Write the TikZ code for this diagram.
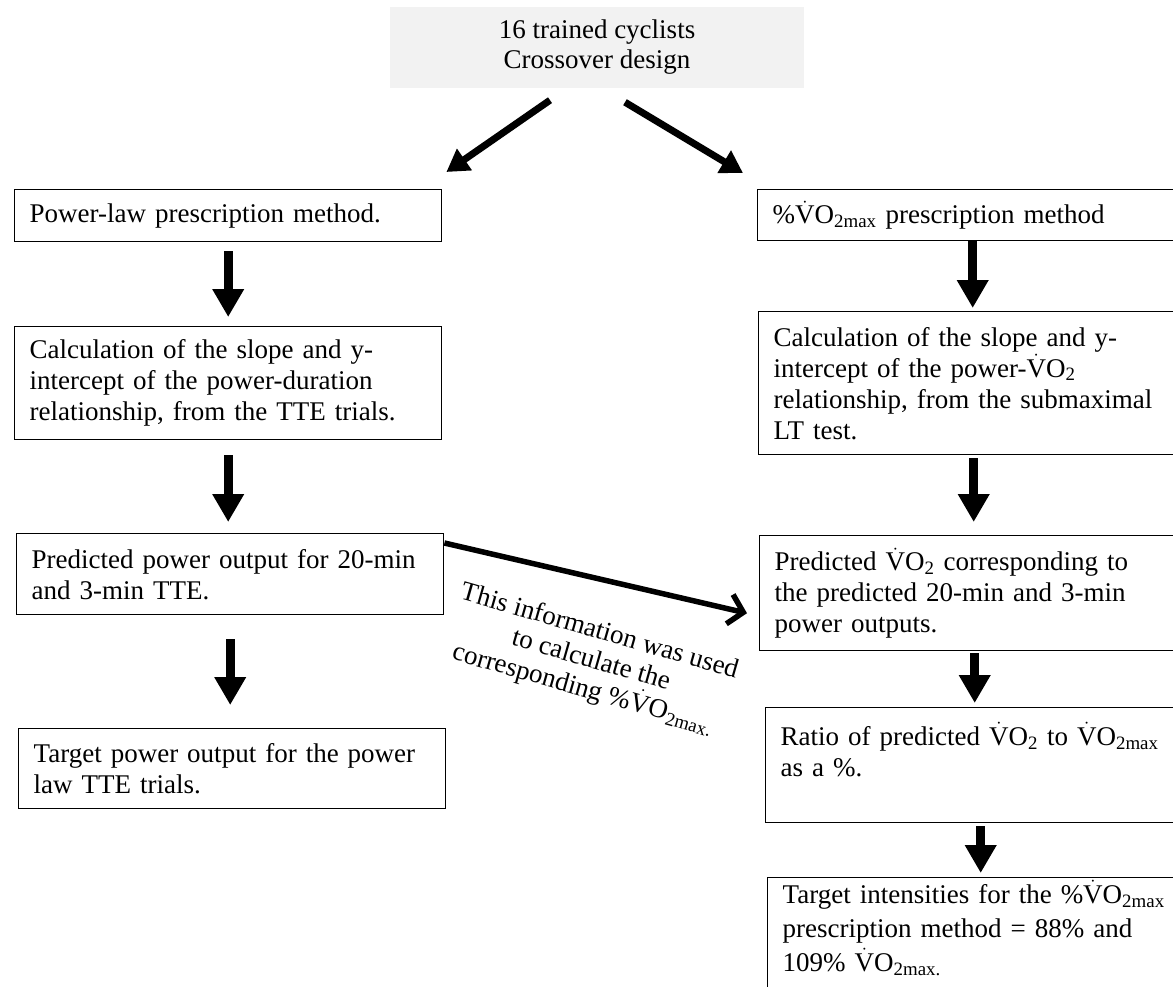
\documentclass[tikz,border=0pt]{standalone}
\usepackage{amsmath}
\usepackage{fontspec}
\setmainfont{Liberation Serif}
\usepackage{tikz}
\usetikzlibrary{arrows.meta}

\newcommand{\Vd}{$\dot{\text{V}}$}
\newcommand{\vot}{\Vd O\textsubscript{2}}
\newcommand{\vomax}{\Vd O\textsubscript{2max}}

\begin{document}
\begin{tikzpicture}[x=1pt, y=-1pt,
    stepbox/.style={draw, line width=1.4pt, anchor=north west, align=left,
        inner xsep=15pt, inner ysep=0pt, font=\fontsize{27}{31}\selectfont},
    leftbox/.style={stepbox, text width=397pt},
    rightbox/.style={stepbox, text width=400pt},
    vArrow/.style={line width=9pt, -{Triangle[width=30pt,length=28pt]}},
    dArrow/.style={line width=7pt, -{Triangle[width=25pt,length=22pt]}},
    lArrow/.style={line width=5.5pt, -{Straight Barb[length=14pt,width=30pt]}}]
    \useasboundingbox (0,0) rectangle (1173,987);
    \clip (0,0) rectangle (1173,987);

    % Participants
    \node[fill=gray!10, minimum width=414pt, minimum height=81pt, align=center,
        font=\fontsize{27}{30}\selectfont] (top) at (597,47.5)
        {16 trained cyclists\\Crossover design};

    % Power-law branch
    \node[leftbox, minimum height=52pt] (l1) at (14,189) {Power-law prescription method.};
    \node[leftbox, minimum height=113pt] (l2) at (14,326)
        {Calculation of the slope and y-\\intercept of the power-duration\\relationship, from the TTE trials.};
    \node[leftbox, minimum height=81pt] (l3) at (16,533)
        {Predicted power output for 20-min\\and 3-min TTE.};
    \node[leftbox, minimum height=80pt] (l4) at (18,728)
        {Target power output for the power\\law TTE trials.};

    % %VO2max branch
    \node[rightbox, minimum height=51pt] (r1) at (757,189) {\%\vomax{} prescription method};
    \node[rightbox, minimum height=143pt] (r2) at (758,311)
        {Calculation of the slope and y-\\intercept of the power-\vot\\relationship, from the submaximal\\LT test.};
    \node[rightbox, minimum height=115pt] (r3) at (759,535)
        {Predicted \vot{} corresponding to\\the predicted 20-min and 3-min\\power outputs.};
    \node[rightbox, minimum height=115pt] (r4) at (765,707)
        {Ratio of predicted \vot{} to \vomax\\as a \%.\\\mbox{}};
    \node[rightbox, minimum height=130pt, font=\fontsize{27}{34}\selectfont] (r5) at (767,877)
        {Target intensities for the \%\vomax\\prescription method = 88\% and\\109\% \Vd O\textsubscript{2max.}\\\mbox{}};

    % rotated note
    \node[rotate=-16, align=center, font=\fontsize{27}{30}\selectfont] (info) at (591,661)
        {This information was used\\to calculate the\\corresponding \%\Vd O\textsubscript{2max.}};

    % arrows
    \draw[dArrow] ([shift={(-47,12)}]top.south) -- ([shift={(4,-17)}]l1.north east);
    \draw[dArrow] ([shift={(28,14)}]top.south) -- ([shift={(-14,-16)}]r1.north west);

    \draw[vArrow, shorten <=9pt, shorten >=9pt] (l1.south) -- (l1.south |- l2.north);
    \draw[vArrow, shorten <=15pt, shorten >=11pt] (l2.south) -- (l2.south |- l3.north);
    \draw[vArrow, shorten <=24pt, shorten >=23pt] (l3.south) -- (l3.south |- l4.north);

    \draw[vArrow, shorten >=3pt] (r1.south) -- (r1.south |- r2.north);
    \draw[vArrow, shorten <=3pt, shorten >=13pt] (r2.south) -- (r2.south |- r3.north);
    \draw[vArrow, shorten <=2pt, shorten >=4pt] (r3.south) -- (r3.south |- r4.north);
    \draw[vArrow, shorten <=3pt, shorten >=4pt] (r4.south) -- (r4.south |- r5.north);

    \draw[lArrow] ([shift={(0,10)}]l3.north east) -- ([shift={(-12,20)}]r3.west);
\end{tikzpicture}
\end{document}
